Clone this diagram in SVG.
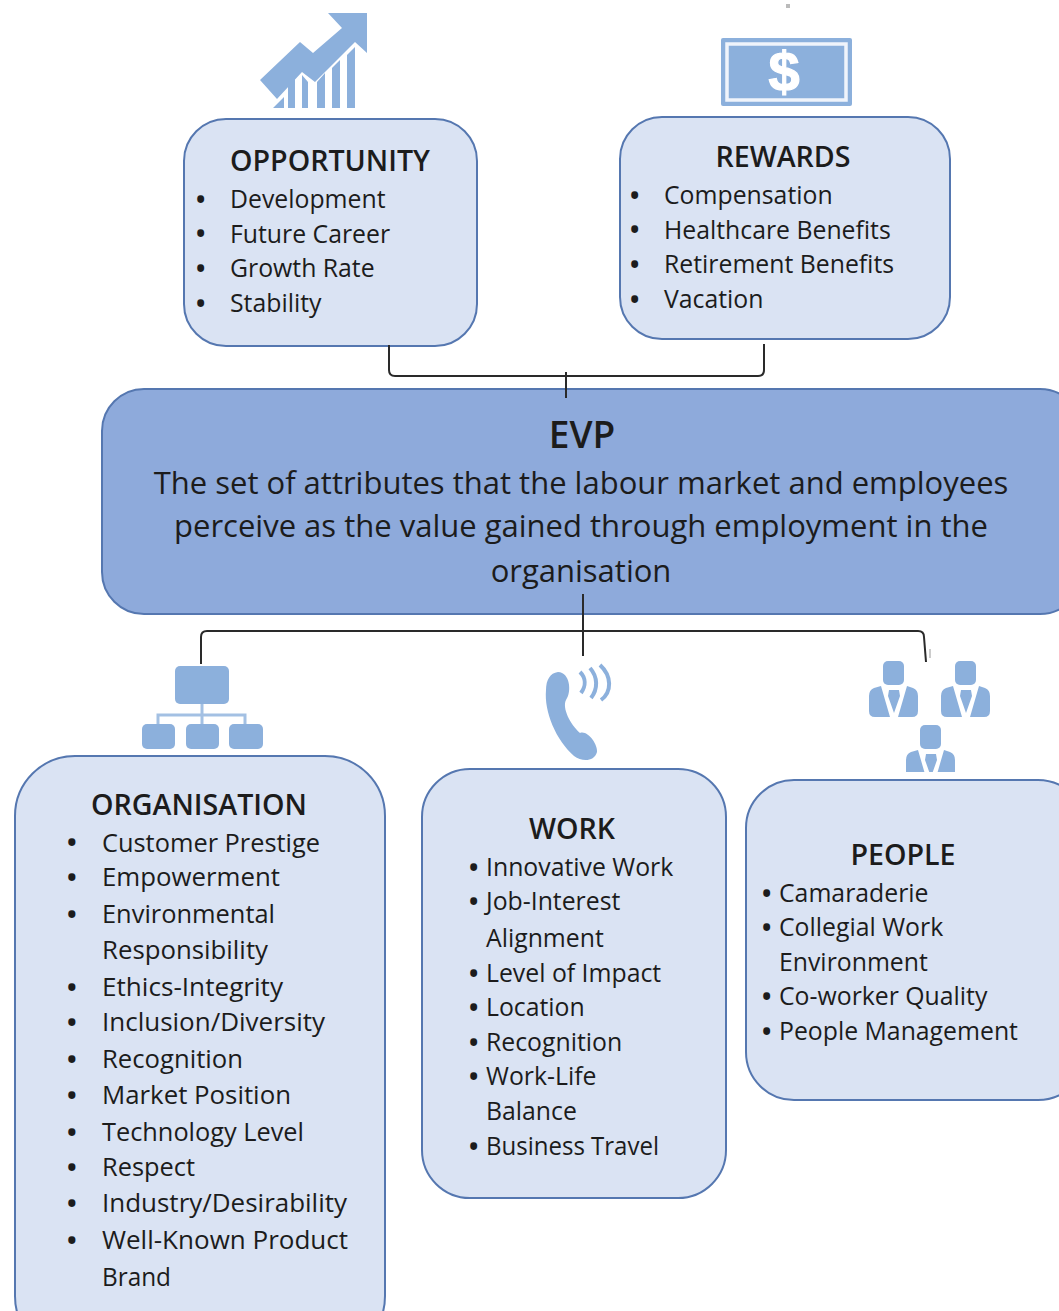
<svg xmlns="http://www.w3.org/2000/svg" width="1059" height="1311" viewBox="0 0 1059 1311">
<style>
.box{fill:#dae3f3;stroke:#5577b0;stroke-width:2}
.ic{fill:#8cb0dc;stroke:none}
.icl{fill:none;stroke:#8cb0dc}
.con{fill:none;stroke:#2a2a2a;stroke-width:2}
text{font-family:"Open Sans","Noto Sans","DejaVu Sans",sans-serif;fill:#1c1c1c;font-size:24.8px}
.h{font-weight:600;font-size:28.6px;text-anchor:middle}
.c{text-anchor:middle;font-size:31px}
.d{font-weight:700}
.o{font-size:25.7px}
</style>
<defs>
<g id="person">
<rect class="ic" x="-11" y="0" width="21" height="24" rx="5"/>
<path class="ic" d="M-20 27L-13 25L-4 56H-19Q-25 56 -25 50V35Q-25 29 -20 27ZM19 27L13 25L4 56H18Q24 56 24 50V35Q24 29 19 27ZM-5 29H5L6 35L0 52L-6 35Z"/>
</g>
<clipPath id="clip3"><rect x="900" y="720" width="60" height="52"/></clipPath>
</defs>
<rect width="1059" height="1311" fill="#fff"/>
<rect x="786" y="4" width="4" height="4" fill="#bbb"/>
<g id="icon-growth">
<path class="ic" d="M260 80L300 42L313 53L342 28L328 13H367V53L355 42L315 82L302 72L277 99Z"/>
<path class="ic" d="M273 108L284 97V108ZM288 108V85L295 78V108ZM302 108V75L308 82V108ZM317 108V82L325 73V108ZM332 108V68L340 60V108ZM347 108V55L355 47V108Z"/>
</g>
<g id="icon-dollar">
<rect class="ic" x="721" y="38" width="131" height="68" rx="2"/>
<rect x="727" y="44" width="119" height="56" fill="none" stroke="#f0f4fb" stroke-width="3.5"/>
<text x="784" y="91" style="font-family:'Liberation Sans',sans-serif;font-weight:700;font-size:56px;fill:#fff;stroke:#fff;stroke-width:1.2px;text-anchor:middle">$</text>
</g>
<g id="opportunity">
<rect class="box" x="184" y="119" width="293" height="227" rx="42"/>
<text class="h" x="330" y="171">OPPORTUNITY</text>
<text><tspan class="d" x="196" y="208">•</tspan><tspan x="230" y="208">Development</tspan><tspan class="d" x="196" y="242">•</tspan><tspan x="230" y="243">Future Career</tspan><tspan class="d" x="196" y="277">•</tspan><tspan x="230" y="277">Growth Rate</tspan><tspan class="d" x="196" y="312">•</tspan><tspan x="230" y="312">Stability</tspan></text>
</g>
<g id="rewards">
<rect class="box" x="620" y="117" width="330" height="222" rx="42"/>
<text class="h" x="783" y="167">REWARDS</text>
<text><tspan class="d" x="630" y="204">•</tspan><tspan x="664" y="204">Compensation</tspan><tspan class="d" x="630" y="238">•</tspan><tspan x="664" y="239">Healthcare Benefits</tspan><tspan class="d" x="630" y="273">•</tspan><tspan x="664" y="273">Retirement Benefits</tspan><tspan class="d" x="630" y="308">•</tspan><tspan x="664" y="308">Vacation</tspan></text>
</g>
<g id="evp">
<rect x="102" y="389" width="980" height="225" rx="42" fill="#8eaadb" stroke="#5577b0" stroke-width="2"/>
<text x="582" y="448" style="font-weight:600;font-size:37px;text-anchor:middle">EVP</text>
<text class="c" x="581" y="494">The set of attributes that the labour market and employees</text>
<text class="c" x="581" y="537">perceive as the value gained through employment in the</text>
<text class="c" x="581" y="582">organisation</text>
</g>
<g id="icon-org">
<rect class="ic" x="175" y="666" width="54" height="38" rx="5"/>
<rect class="ic" x="142" y="724" width="33" height="25" rx="5"/>
<rect class="ic" x="186" y="724" width="33" height="25" rx="5"/>
<rect class="ic" x="229" y="724" width="34" height="25" rx="5"/>
<path class="icl" stroke-width="3" opacity="0.8" d="M202 704V724M158 724V715H245V724"/>
</g>
<g id="icon-phone">
<path class="ic" d="M558 672C570 672 572 692 566 700C562 708 570 724 580 733C588 730 598 745 597 752C594 762 582 762 574 756C556 740 544 712 546 690C546 680 550 673 558 672Z"/>
<path class="icl" stroke-width="4" d="M580 672C586 678 586 686 581 693M590 668C598 677 598 689 591 698M600 665C612 676 612 692 601 700"/>
</g>
<g id="icon-people">
<use href="#person" x="894" y="661"/>
<use href="#person" x="966" y="661"/>
<g clip-path="url(#clip3)"><use href="#person" x="931" y="725"/></g>
</g>
<g id="organisation">
<rect class="box" x="15" y="756" width="370" height="600" rx="60"/>
<text class="h" x="199" y="815">ORGANISATION</text>
<text class="o"><tspan class="d" x="67" y="851">•</tspan><tspan x="102" y="852" textLength="218" lengthAdjust="spacingAndGlyphs">Customer Prestige</tspan><tspan class="d" x="67" y="886">•</tspan><tspan x="102" y="886" textLength="178" lengthAdjust="spacingAndGlyphs">Empowerment</tspan><tspan class="d" x="67" y="923">•</tspan><tspan x="102" y="923" textLength="173" lengthAdjust="spacingAndGlyphs">Environmental</tspan><tspan x="102" y="959" textLength="166" lengthAdjust="spacingAndGlyphs">Responsibility</tspan><tspan class="d" x="67" y="996">•</tspan><tspan x="102" y="996" textLength="181" lengthAdjust="spacingAndGlyphs">Ethics-Integrity</tspan><tspan class="d" x="67" y="1031">•</tspan><tspan x="102" y="1031" textLength="223" lengthAdjust="spacingAndGlyphs">Inclusion/Diversity</tspan><tspan class="d" x="67" y="1068">•</tspan><tspan x="102" y="1068" textLength="141" lengthAdjust="spacingAndGlyphs">Recognition</tspan><tspan class="d" x="67" y="1104">•</tspan><tspan x="102" y="1104" textLength="189" lengthAdjust="spacingAndGlyphs">Market Position</tspan><tspan class="d" x="67" y="1141">•</tspan><tspan x="102" y="1141" textLength="202" lengthAdjust="spacingAndGlyphs">Technology Level</tspan><tspan class="d" x="67" y="1176">•</tspan><tspan x="102" y="1176" textLength="93" lengthAdjust="spacingAndGlyphs">Respect</tspan><tspan class="d" x="67" y="1212">•</tspan><tspan x="102" y="1212" textLength="245" lengthAdjust="spacingAndGlyphs">Industry/Desirability</tspan><tspan class="d" x="67" y="1249">•</tspan><tspan x="102" y="1249" textLength="246" lengthAdjust="spacingAndGlyphs">Well-Known Product</tspan><tspan x="102" y="1286" textLength="69" lengthAdjust="spacingAndGlyphs">Brand</tspan></text>
</g>
<g id="work">
<rect class="box" x="422" y="769" width="304" height="429" rx="48"/>
<text class="h" x="572" y="839">WORK</text>
<text><tspan class="d" x="469" y="876">•</tspan><tspan x="486" y="876">Innovative Work</tspan><tspan class="d" x="469" y="910">•</tspan><tspan x="486" y="910">Job-Interest</tspan><tspan x="486" y="947">Alignment</tspan><tspan class="d" x="469" y="982">•</tspan><tspan x="486" y="982">Level of Impact</tspan><tspan class="d" x="469" y="1016">•</tspan><tspan x="486" y="1016">Location</tspan><tspan class="d" x="469" y="1051">•</tspan><tspan x="486" y="1051">Recognition</tspan><tspan class="d" x="469" y="1085">•</tspan><tspan x="486" y="1085">Work-Life</tspan><tspan x="486" y="1120">Balance</tspan><tspan class="d" x="469" y="1155">•</tspan><tspan x="486" y="1155" textLength="173" lengthAdjust="spacingAndGlyphs">Business Travel</tspan></text>
</g>
<g id="people">
<rect class="box" x="746" y="780" width="340" height="320" rx="48"/>
<text class="h" x="903" y="865">PEOPLE</text>
<text><tspan class="d" x="762" y="902">•</tspan><tspan x="779" y="902">Camaraderie</tspan><tspan class="d" x="762" y="936">•</tspan><tspan x="779" y="936">Collegial Work</tspan><tspan x="779" y="971">Environment</tspan><tspan class="d" x="762" y="1005">•</tspan><tspan x="779" y="1005">Co-worker Quality</tspan><tspan class="d" x="762" y="1040">•</tspan><tspan x="779" y="1040">People Management</tspan></text>
</g>
<g id="connectors">
<path class="con" d="M389 345V370Q389 376 395 376H758Q764 376 764 370V344M566 372V398"/>
<path class="con" d="M583 594V656M201 664V637Q201 631 207 631H918Q924 631 924 637L926 662"/>
<rect x="929" y="649" width="2" height="9" fill="#ccc"/>
</g>
</svg>
